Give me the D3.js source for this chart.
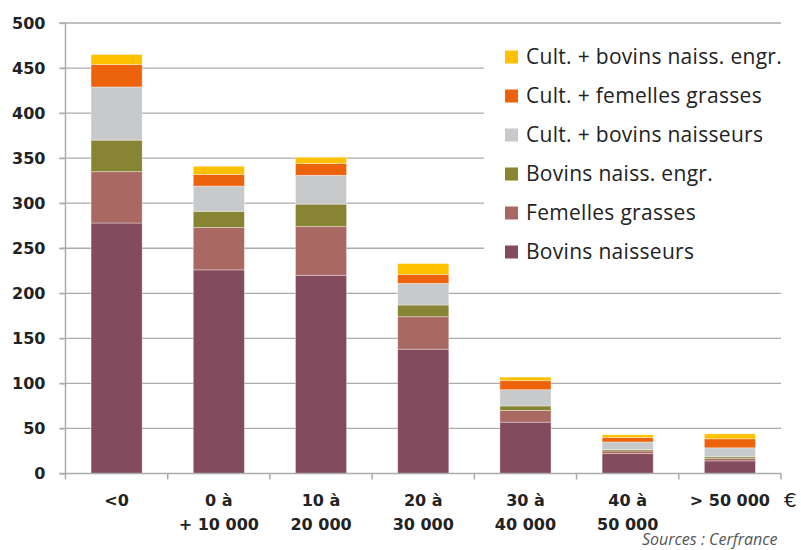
<!DOCTYPE html>
<html>
<head>
<meta charset="utf-8">
<script src="https://cdn.jsdelivr.net/npm/d3@7/dist/d3.min.js"></script>
<style>
  html, body { margin: 0; padding: 0; background: #fff; }
  svg { display: block; }
</style>
</head>
<body>
<svg id="chart" width="801" height="550"></svg>
<script>
// Tranches de résultat (€) et libellés d'axe sur deux lignes
const categories = ["<0", "0-10", "10-20", "20-30", "30-40", "40-50", ">50"];
const categoryLabels = [
  ["<0"],
  ["0 à", "+ 10 000"],
  ["10 à", "20 000"],
  ["20 à", "30 000"],
  ["30 à", "40 000"],
  ["40 à", "50 000"],
  ["> 50 000"]
];

// Séries empilées (du bas vers le haut)
const seriesNames = [
  "Bovins naisseurs",
  "Femelles grasses",
  "Bovins naiss. engr.",
  "Cult. + bovins naisseurs",
  "Cult. + femelles grasses",
  "Cult. + bovins naiss. engr."
];
const bovinsNaisseurs      = [278, 226, 220, 138, 57, 22, 14];
const femellesGrasses      = [57, 47, 54, 36, 13, 3, 2.5];
const bovinsNaissEngr      = [35, 18, 25, 13, 5, 1.5, 2];
const cultBovinsNaisseurs  = [59, 28, 32, 24, 18, 8.5, 10];
const cultFemellesGrasses  = [25, 13, 13, 10, 10, 5, 10];
const cultBovinsNaissEngr  = [11, 9, 7, 12, 4, 3, 5.5];

const yTicks = [0, 50, 100, 150, 200, 250, 300, 350, 400, 450, 500];
const colors = ["#834B5D", "#AA6863", "#878434", "#C8C9CA", "#EC630C", "#FFC000"];

(function () {
  const seriesValues = [bovinsNaisseurs, femellesGrasses, bovinsNaissEngr,
                        cultBovinsNaisseurs, cultFemellesGrasses, cultBovinsNaissEngr];
  const rows = categories.map((c, i) => {
    const r = { cat: c };
    seriesNames.forEach((s, k) => { r[s] = seriesValues[k][i]; });
    return r;
  });

  const svg = d3.select("#chart");
  const plotLeft = 65.5, plotRight = 781, plotTop = 23, plotBottom = 473.5;

  const x = d3.scaleBand().domain(categories).range([plotLeft, plotRight])
    .paddingInner(0.5).paddingOuter(0.25);
  const y = d3.scaleLinear().domain([0, 500]).range([plotBottom, plotTop]);

  const gridColor = "#ababab";

  // Quadrillage horizontal
  svg.append("g").selectAll("line").data(yTicks.filter(t => t > 0)).join("line")
    .attr("x1", plotLeft - 6).attr("x2", plotRight)
    .attr("y1", d => y(d)).attr("y2", d => y(d))
    .attr("stroke", gridColor).attr("stroke-width", 1.3);

  // Axe vertical
  const yAxis = d3.axisLeft(y).tickValues(yTicks).tickSize(6).tickPadding(14);
  const gy = svg.append("g").attr("transform", `translate(${plotLeft},0)`).call(yAxis);
  gy.select(".domain").attr("stroke", gridColor).attr("stroke-width", 1.5)
    .attr("d", `M0,${plotTop}V${plotBottom}`);
  gy.selectAll(".tick line").attr("stroke", gridColor).attr("stroke-width", 1.3);
  gy.selectAll(".tick text")
    .attr("fill", "#222")
    .style("font-family", "'DejaVu Sans', sans-serif")
    .style("font-weight", "bold")
    .style("font-size", "16px");

  // Barres empilées
  const stacked = d3.stack().keys(seriesNames)(rows);
  svg.append("g").selectAll("g").data(stacked).join("g")
    .attr("fill", (d, i) => colors[i])
    .selectAll("rect").data(d => d).join("rect")
    .attr("x", d => x(d.data.cat))
    .attr("width", x.bandwidth())
    .attr("y", d => y(d[1]))
    .attr("height", d => Math.max(0, y(d[0]) - y(d[1])))
    .attr("stroke", "rgba(255,255,255,0.45)")
    .attr("stroke-width", 0.8);

  // Axe horizontal avec graduations entre catégories
  const boundaries = d3.range(categories.length + 1).map(i => plotLeft + i * x.step());
  svg.append("line")
    .attr("x1", plotLeft - 6).attr("x2", plotRight)
    .attr("y1", plotBottom).attr("y2", plotBottom)
    .attr("stroke", gridColor).attr("stroke-width", 1.5);
  svg.append("g").selectAll("line").data(boundaries).join("line")
    .attr("x1", d => d).attr("x2", d => d)
    .attr("y1", plotBottom).attr("y2", plotBottom + 6)
    .attr("stroke", gridColor).attr("stroke-width", 1.5);

  // Libellés des catégories
  const xl = svg.append("g")
    .style("font-family", "'DejaVu Sans', sans-serif")
    .style("font-weight", "bold")
    .style("font-size", "16px")
    .attr("fill", "#222")
    .attr("text-anchor", "middle");
  categories.forEach((c, i) => {
    const cx = x(c) + x.bandwidth() / 2;
    const t = xl.append("text").attr("x", cx).attr("y", 506);
    categoryLabels[i].forEach((line, j) => {
      t.append("tspan").attr("x", cx).attr("y", 506 + j * 24).text(line);
    });
  });

  // Unité
  svg.append("text").attr("x", 784).attr("y", 507)
    .style("font-family", "'DejaVu Sans', sans-serif")
    .style("font-size", "20px").attr("fill", "#222").text("€");

  // Légende
  const legend = svg.append("g");
  legend.append("rect").attr("x", 484).attr("y", 31).attr("width", 297).attr("height", 238).attr("fill", "#fff");
  const legendOrder = seriesNames.map((s, i) => i).reverse();
  legendOrder.forEach((k, r) => {
    const cy = 57 + r * 39;
    legend.append("rect").attr("x", 505).attr("y", cy - 6.5).attr("width", 13).attr("height", 13).attr("fill", colors[k]);
    legend.append("text").attr("x", 526).attr("y", cy).attr("dy", "0.35em")
      .style("font-family", "'Open Sans', sans-serif")
      .style("font-size", "21px")
      .style("letter-spacing", "0.3px")
      .attr("fill", "#222").text(seriesNames[k]);
  });

  // Source
  svg.append("text").attr("x", 642).attr("y", 545)
    .style("font-family", "'Open Sans', sans-serif")
    .style("font-style", "italic")
    .style("font-size", "16px").attr("fill", "#555").text("Sources : Cerfrance");
})();
</script>
</body>
</html>
